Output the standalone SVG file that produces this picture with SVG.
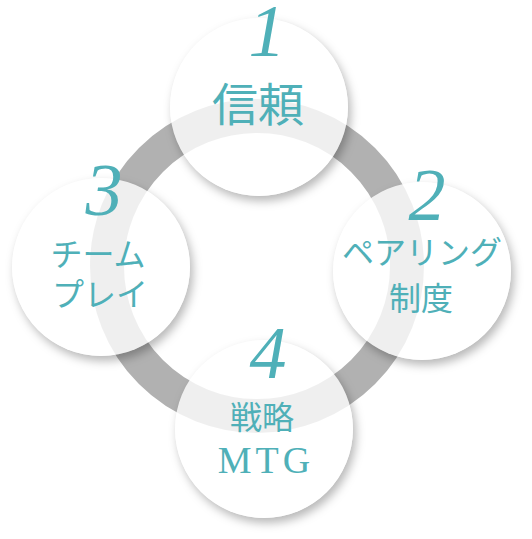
<svg xmlns="http://www.w3.org/2000/svg" width="532" height="539" viewBox="0 0 532 539">
<defs>
<filter id="sh" x="-20%" y="-20%" width="150%" height="150%">
<feGaussianBlur in="SourceAlpha" stdDeviation="5"/>
<feOffset dx="3" dy="5" result="b"/>
<feFlood flood-color="#000" flood-opacity="0.28"/>
<feComposite in2="b" operator="in" result="s"/>
<feComposite in="s" in2="SourceAlpha" operator="out"/>
</filter>
<style>
.shadow{fill:#000;filter:url(#sh)}
.disc{fill:#fff;fill-opacity:0.8}
.num{font-family:"Liberation Serif",serif;font-style:italic;font-size:74px;fill:#4fb0b8;text-anchor:middle}
.jp{font-family:"Noto Sans CJK JP",sans-serif;fill:#4fb0b8;text-anchor:middle}
.big{font-size:46px}
.mid{font-size:32px}
.lat{font-family:"Liberation Serif",serif;font-size:38px;fill:#4fb0b8;text-anchor:middle;letter-spacing:4px}
</style>
</defs>
<rect width="532" height="539" fill="#fff"/>
<g id="connectors">
<circle cx="257" cy="266" r="150" fill="none" stroke="#b1b1b1" stroke-width="34"/>
</g>
<g id="node1">
<circle class="shadow" cx="259" cy="107" r="89"/>
<circle class="disc" cx="259" cy="107" r="89"/>
<text class="num" x="267" y="56">1</text>
<text class="jp big" x="258" y="121">信頼</text>
</g>
<g id="node2">
<circle class="shadow" cx="422" cy="271" r="89"/>
<circle class="disc" cx="422" cy="271" r="89"/>
<text class="num" x="427" y="220">2</text>
<text class="jp mid" x="422" y="264">ペアリング</text>
<text class="jp mid" x="421" y="310">制度</text>
</g>
<g id="node3">
<circle class="shadow" cx="101" cy="267" r="89"/>
<circle class="disc" cx="101" cy="267" r="89"/>
<text class="num" x="104" y="215">3</text>
<text class="jp mid" x="98" y="266">チーム</text>
<text class="jp mid" x="100" y="306">プレイ</text>
</g>
<g id="node4">
<circle class="shadow" cx="264" cy="429" r="89"/>
<circle class="disc" cx="264" cy="429" r="89"/>
<text class="num" x="268" y="378">4</text>
<text class="jp mid" x="262" y="429">戦略</text>
<text class="lat" x="266" y="473">MTG</text>
</g>
</svg>
